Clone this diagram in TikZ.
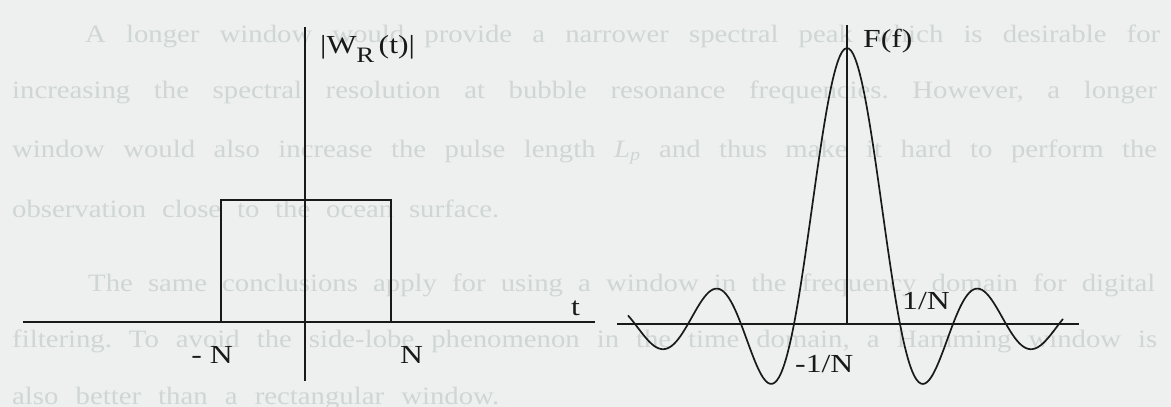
\documentclass[tikz,border=0pt]{standalone}
\usepackage{fontspec}
\setmainfont{Liberation Serif}
\newfontfamily\labelfont[FakeStretch=1.22]{Liberation Serif}
\newfontfamily\pagefont[FakeStretch=1.15]{Liberation Serif}
\usetikzlibrary{calc}
\frenchspacing

\definecolor{paper}{RGB}{237,240,239}
\definecolor{ghost}{RGB}{207,214,212}
\definecolor{ink}{RGB}{25,25,25}

\begin{document}
\begin{tikzpicture}[
    x=1pt, y=-1pt,
    pageline/.style={anchor=base west, inner sep=0pt, text=ghost, font=\pagefont\fontsize{25}{30}\selectfont},
    lbl/.style={anchor=base west, inner sep=0pt, text=ink, font=\labelfont\fontsize{26}{30}\selectfont},
    thickaxis/.style={draw=ink, line width=2.6pt},
    thinaxis/.style={draw=ink, line width=1.7pt},
]
\useasboundingbox (0,0) rectangle (1171,407);

% ======== PAGE TEXT (faint, behind the figure) ========
\fill[paper] (0,0) rectangle (1171,407);
\node[pageline] (p1) at (85,42) {\makebox[1075pt][s]{A longer window would provide a narrower spectral peak which is desirable for}};
\node[pageline] (p2) at (12,98) {\makebox[1145pt][s]{increasing the spectral resolution at bubble resonance frequencies. However, a longer}};
\node[pageline] (p3) at (12,157) {\makebox[1145pt][s]{window would also increase the pulse length \textit{L}\textsubscript{\textit{p}} and thus make it hard to perform the}};
\node[pageline] (p4) at (12,217) {\makebox[487pt][s]{observation close to the ocean surface.}};
\node[pageline] (p5) at (88,291) {\makebox[1067pt][s]{The same conclusions apply for using a window in the frequency domain for digital}};
\node[pageline] (p6) at (12,347) {\makebox[1145pt][s]{filtering. To avoid the side-lobe phenomenon in the time domain, a Hamming window is}};
\node[pageline] (p7) at (12,404) {\makebox[487pt][s]{also better than a rectangular window.}};

% ======== RECTANGULAR WINDOW (left) ========
\coordinate (wtop) at (305,27);
\coordinate (wbot) at (305,381);
\coordinate (wleft) at (23,322);
\coordinate (wright) at (595,322);
\coordinate (boxnw) at (221,200);
\coordinate (boxse) at (391,322);

\draw[thickaxis] (wleft) -- (wright);
\draw[thickaxis] (wtop) -- (wbot);
\draw[thickaxis] (boxnw) rectangle (boxse);

\node[lbl] (wlabel) at (320,53) {|W\raisebox{-9pt}{\fontsize{22}{24}\selectfont R}\,(t)|};
\node[lbl] (tlabel) at (571,315) {t};
\node[lbl, anchor=base east] (nneg) at (233,363) {- N};
\node[lbl] (npos) at (400,363) {N};

% ======== SPECTRUM (right) ========
\coordinate (ftop) at (847,25);
\coordinate (forig) at (847,324);
\coordinate (fleft) at (617,324);
\coordinate (fright) at (1079,324);

\draw[thinaxis] (fleft) -- (fright);
\draw[thinaxis] (ftop) -- (forig);
\draw[thinaxis] plot[smooth, domain=-219:216, samples=200]
    ({847+\x}, {324-276*sin(\x/53*180)/(\x/53*pi)});

\node[lbl] (flabel) at (863,47) {F(f)};
\node[lbl] (onelabel) at (902,309) {1/N};
\node[lbl] (monelabel) at (795,372) {-1/N};

\end{tikzpicture}
\end{document}
